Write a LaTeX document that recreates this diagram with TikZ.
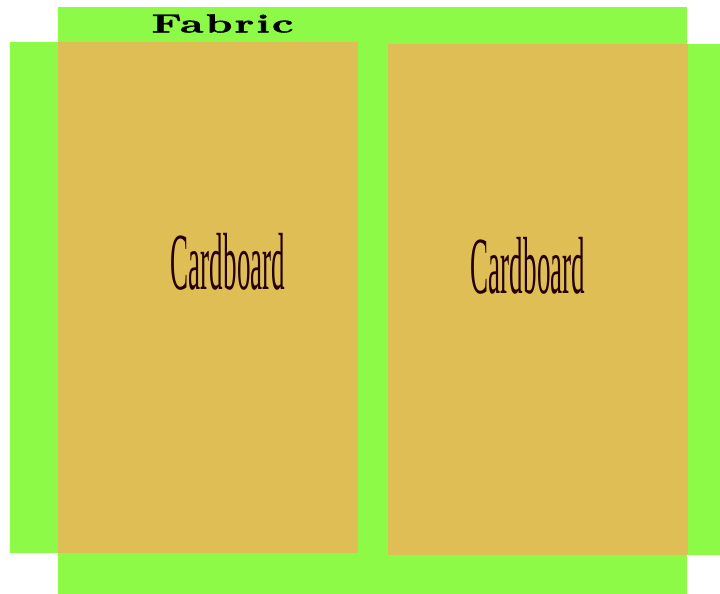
\documentclass[tikz,border=0pt]{standalone}
\usepackage{fontspec}
\setmainfont{Latin Modern Roman}
\newfontfamily\cardfont{Liberation Serif}
\newfontfamily\fabfont[LetterSpace=5,FakeBold=1.5]{Latin Modern Roman}
\definecolor{fabricgreen}{HTML}{8CFA46}
\definecolor{cardcol}{HTML}{DFBF55}
\begin{document}
\begin{tikzpicture}[x=1pt,y=-1pt,
  fabricpart/.style={fill=fabricgreen,draw=none},
  cardpart/.style={fill=cardcol,draw=none},
  cardlabel/.style={inner sep=0pt,font=\cardfont\fontsize{81}{81}\selectfont,text=black!85!red}]
\useasboundingbox (0,0) rectangle (720,594);
% fabric
\fill[fabricpart] (58,7) rectangle (687,594);
\fill[fabricpart] (10,42) rectangle (58,553);
\fill[fabricpart] (687,44) rectangle (720,555);
% cardboards
\fill[cardpart] (58,42) rectangle (358,553);
\fill[cardpart] (388,44) rectangle (688,555);
% labels
\node[inner sep=0pt] (fab) at (222.5,23.5) {\scalebox{1.65}[1]{\fabfont\bfseries\fontsize{26}{26}\selectfont Fabric}};
\node[cardlabel] (c1) at (228,262) {\scalebox{0.334}[1]{Cardboard}};
\node[cardlabel] (c2) at (528,266) {\scalebox{0.334}[1]{Cardboard}};
\end{tikzpicture}
\end{document}
